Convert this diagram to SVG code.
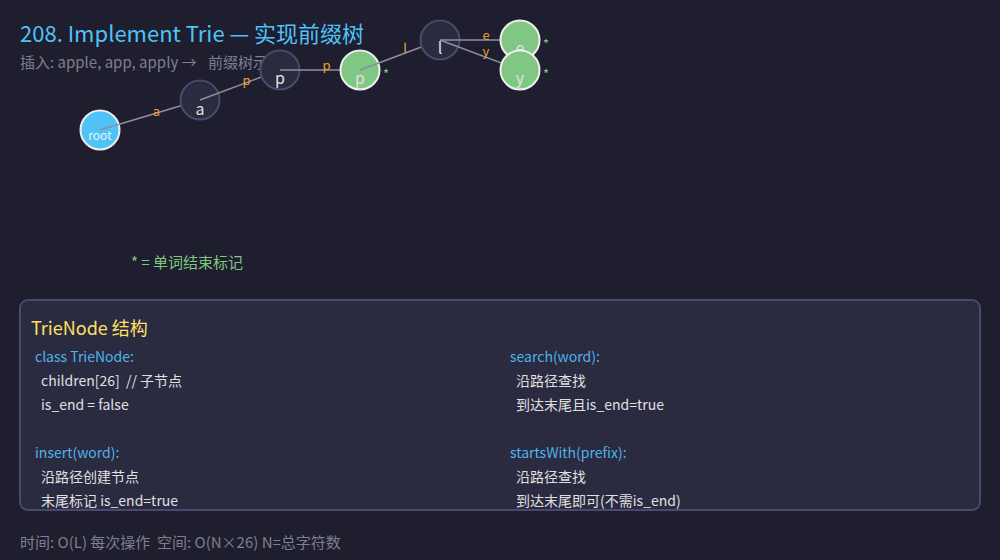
<svg xmlns="http://www.w3.org/2000/svg" width="1000" height="560" viewBox="0 0 1000 560">
<style>
text{font-family:"Noto Sans CJK SC","Noto Sans",sans-serif;white-space:pre;}
.title{font-size:22px;fill:#4fc3f7;}
.sub{font-size:15px;fill:#7f7f8f;}
.edge{stroke:#8f8f9f;stroke-width:1.5;fill:none;}
.elab{font-size:13px;fill:#f0a030;text-anchor:middle;}
.n{fill:#2a2a40;stroke:#4a4a6e;stroke-width:2;}
.nend{fill:#81c784;stroke:#eeeeee;stroke-width:2;}
.nroot{fill:#4fc3f7;stroke:#eeeeee;stroke-width:2;}
.nt{font-size:16px;fill:#e0e0e0;text-anchor:middle;}
.rt{font-size:12px;fill:#e8f4fa;text-anchor:middle;}
.star{font-size:13px;fill:#81c784;}
.legend{font-size:15px;fill:#81c784;}
.panel{fill:#2a2a40;stroke:#4a4a6e;stroke-width:2;}
.ptitle{font-size:18px;fill:#ffe066;}
.kw{font-size:14px;fill:#4fb3e8;}
.code{font-size:14px;fill:#e0e0e0;}
.foot{font-size:15px;fill:#7f7f8f;}
</style>
<rect width="1000" height="560" fill="#1e1e2e"/>
<text class="title" x="20" y="42">208. Implement Trie — 实现前缀树</text>
<text class="sub" x="20" y="68">插入: apple, app, apply → <tspan x="208">前缀树示</tspan></text>
<g id="trie">
<g id="node-root"><circle class="nroot" cx="100" cy="130" r="19.5"/><text class="rt" x="100" y="140">root</text></g>
<g id="connectors-1"><line class="edge" x1="100" y1="130" x2="200" y2="100"/><text class="elab" x="156.5" y="115.5">a</text></g>
<g id="node-a"><circle class="n" cx="200" cy="100" r="19.5"/><text class="nt" x="200" y="115">a</text></g>
<g id="connectors-2"><line class="edge" x1="200" y1="100" x2="280" y2="70"/><text class="elab" x="246.5" y="85">p</text></g>
<g id="node-p1"><circle class="n" cx="280" cy="70" r="19.5"/><text class="nt" x="280" y="84">p</text></g>
<g id="connectors-3"><line class="edge" x1="280" y1="70" x2="360" y2="70"/><text class="elab" x="326.5" y="70">p</text></g>
<g id="node-p2"><circle class="nend" cx="360" cy="70" r="19.5"/><text class="nt" x="360" y="84">p</text><text class="star" x="383" y="78.5">*</text></g>
<g id="connectors-4"><line class="edge" x1="360" y1="70" x2="440" y2="40"/><text class="elab" x="405" y="53">l</text></g>
<g id="node-l"><circle class="n" cx="440" cy="40" r="19.5"/><text class="nt" x="440" y="54">l</text></g>
<g id="connectors-5"><line class="edge" x1="440" y1="40" x2="520" y2="40"/><text class="elab" x="486" y="40">e</text></g>
<g id="node-e"><circle class="nend" cx="520" cy="40" r="19.5"/><text class="nt" x="520" y="54">e</text><text class="star" x="543" y="48.5">*</text></g>
<g id="connectors-6"><line class="edge" x1="440" y1="40" x2="520" y2="70"/><text class="elab" x="486" y="56">y</text></g>
<g id="node-y"><circle class="nend" cx="520" cy="70" r="19.5"/><text class="nt" x="520" y="84">y</text><text class="star" x="543" y="78.5">*</text></g>
</g>
<text class="legend" x="131" y="268">* = 单词结束标记</text>
<g id="panel">
<rect class="panel" x="20" y="300" width="960" height="210" rx="8"/>
<text class="ptitle" x="31" y="335">TrieNode 结构</text>
<text class="kw" x="35" y="362">class TrieNode:</text>
<text class="code" x="41" y="386">children[26]  // 子节点</text>
<text class="code" x="41" y="410">is_end = false</text>
<text class="kw" x="35" y="458">insert(word):</text>
<text class="code" x="41" y="482">沿路径创建节点</text>
<text class="code" x="41" y="506">末尾标记 is_end=true</text>
<text class="kw" x="510" y="362">search(word):</text>
<text class="code" x="516" y="386">沿路径查找</text>
<text class="code" x="516" y="410">到达末尾且is_end=true</text>
<text class="kw" x="510" y="458">startsWith(prefix):</text>
<text class="code" x="516" y="482">沿路径查找</text>
<text class="code" x="516" y="506">到达末尾即可(不需is_end)</text>
</g>
<text class="foot" x="20" y="548">时间: O(L) 每次操作  空间: O(N×26) N=总字符数</text>
</svg>
